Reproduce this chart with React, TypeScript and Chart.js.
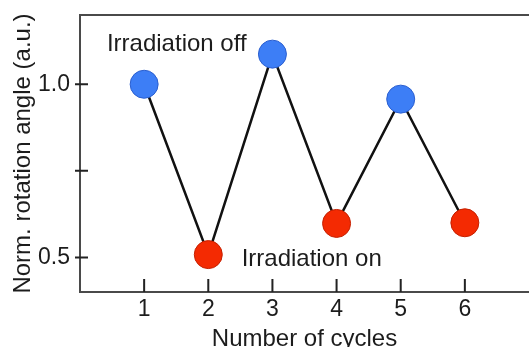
import React, { useEffect, useRef } from "react";
import { Chart, registerables } from "chart.js";

Chart.register(...registerables);

const cycles = [1, 2, 3, 4, 5, 6];
const rotation = [1.0, 0.508, 1.087, 0.598, 0.957, 0.6];
const states = ["off", "on", "off", "on", "off", "on"];
const xTicks = [1, 2, 3, 4, 5, 6];
const yTicks = [0.5, 0.75, 1.0];
const yTickLabels = ["0.5", "", "1.0"];
const noteTexts = ["Irradiation off", "Irradiation on"];
const noteX = [0.42, 2.52];
const noteY = [1.116, 0.494];

const FONT = "'Liberation Sans', Arial, Helvetica, sans-serif";
const TEXT = "#1c1c1c";
const AXIS = "#4a4a4a";

const framePlugin = {
  id: "frame",
  afterDraw(chart: any) {
    const { ctx, chartArea, scales } = chart;
    const xs = scales.x;
    const ys = scales.y;
    ctx.save();
    ctx.strokeStyle = AXIS;
    ctx.lineWidth = 2;
    ctx.beginPath();
    ctx.moveTo(chartArea.left, chartArea.top);
    ctx.lineTo(chartArea.right, chartArea.top);
    ctx.stroke();
    ctx.strokeStyle = "#222";
    ctx.lineWidth = 2;
    ctx.beginPath();
    xTicks.forEach((v) => {
      const px = xs.getPixelForValue(v);
      ctx.moveTo(px, chartArea.bottom);
      ctx.lineTo(px, chartArea.bottom - 13);
    });
    yTicks.forEach((v) => {
      const py = ys.getPixelForValue(v);
      ctx.moveTo(chartArea.left - 5, py);
      ctx.lineTo(chartArea.left + 8, py);
    });
    ctx.stroke();
    ctx.fillStyle = TEXT;
    ctx.font = `24px ${FONT}`;
    ctx.textBaseline = "middle";
    ctx.textAlign = "left";
    noteTexts.forEach((t, i) => {
      ctx.fillText(t, xs.getPixelForValue(noteX[i]), ys.getPixelForValue(noteY[i]));
    });
    ctx.restore();
  },
};

export default function App() {
  const ref = useRef<HTMLCanvasElement>(null);
  useEffect(() => {
    if (!ref.current) return;
    const chart = new Chart(ref.current, {
      type: "scatter",
      data: {
        datasets: [
          {
            data: cycles.map((c, i) => ({ x: c, y: rotation[i] })),
            showLine: true,
            borderColor: "#111",
            borderWidth: 2.5,
            pointRadius: 14,
            pointBorderWidth: 1,
            pointBackgroundColor: states.map((s) => (s === "off" ? "#3d7ef6" : "#f42a02")),
            pointBorderColor: states.map((s) => (s === "off" ? "#2b5fcf" : "#c42000")),
            clip: false,
          },
        ],
      },
      options: {
        responsive: false,
        animation: false,
        layout: { autoPadding: false, padding: { top: 15, left: 0, right: 0, bottom: 0 } },
        plugins: { legend: { display: false }, tooltip: { enabled: false } },
        scales: {
          x: {
            type: "linear",
            min: 0,
            max: 7,
            afterBuildTicks: (s: any) => {
              s.ticks = xTicks.map((v) => ({ value: v }));
            },
            afterFit: (s: any) => {
              s.height = 55;
              s.paddingLeft = 0;
              s.paddingRight = 0;
            },
            grid: { display: false, drawTicks: false },
            border: { display: true, color: AXIS, width: 2 },
            ticks: {
              padding: 4,
              color: TEXT,
              font: { family: FONT, size: 23 },
              callback: (v: any) => String(v),
            },
            title: {
              display: true,
              text: "Number of cycles",
              color: TEXT,
              font: { family: FONT, size: 24 },
              padding: { top: 0, bottom: -7 },
            },
          },
          y: {
            type: "linear",
            min: 0.4,
            max: 1.2,
            afterBuildTicks: (s: any) => {
              s.ticks = yTicks.map((v) => ({ value: v }));
            },
            afterFit: (s: any) => {
              s.width = 80;
              s.paddingTop = 0;
              s.paddingBottom = 0;
            },
            grid: { display: false, drawTicks: false },
            border: { display: true, color: AXIS, width: 2 },
            ticks: {
              padding: 10,
              color: TEXT,
              font: { family: FONT, size: 23 },
              callback: (v: any) => {
                const i = yTicks.indexOf(Number(v));
                return i >= 0 ? yTickLabels[i] : "";
              },
            },
            title: {
              display: true,
              text: "Norm. rotation angle (a.u.)",
              color: TEXT,
              font: { family: FONT, size: 24 },
              padding: { top: 9, bottom: 0 },
            },
          },
        },
      },
      plugins: [framePlugin],
    });
    return () => chart.destroy();
  }, []);
  return (
    <div style={{ position: "fixed", left: 0, top: 0, width: 529, height: 347, background: "#fff" }}>
      <canvas ref={ref} width={529} height={347} />
    </div>
  );
}
